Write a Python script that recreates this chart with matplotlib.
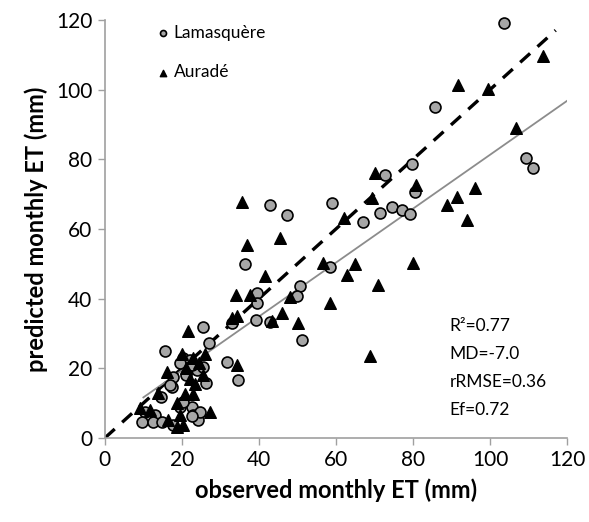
import numpy as np
import matplotlib
matplotlib.use('Agg')
import matplotlib.pyplot as plt

plt.rcParams['font.family'] = ['Lato', 'DejaVu Sans']

# observed / predicted monthly ET (mm)
lam_obs = [103.5, 85.7, 109.4, 111.2, 79.7, 80.5, 72.7, 59.0, 47.3, 42.9, 71.4, 74.5, 77.1, 79.2,
           67.0, 58.4, 36.3, 50.6, 49.9, 39.5, 39.5, 39.3, 42.9, 25.5, 27.0, 51.2, 15.6, 31.7,
           34.5, 26.2, 17.7, 17.4, 14.5, 10.4, 9.6, 13.0, 12.5, 14.8, 17.7, 19.5, 22.6, 22.9,
           24.2, 24.7, 22.6, 20.3, 16.9, 20.3, 22.0, 24.0, 21.0, 25.5, 33.0, 22.6, 19.5]
lam_pred = [119.0, 95.0, 80.4, 77.5, 78.7, 70.6, 75.5, 67.5, 64.0, 66.9, 64.6, 66.3, 65.5, 64.3,
            62.0, 49.1, 50.0, 43.6, 40.8, 41.6, 38.8, 33.9, 33.3, 31.9, 27.3, 28.2, 25.0, 21.8,
            16.7, 15.8, 17.5, 14.6, 11.8, 7.5, 4.6, 6.6, 4.6, 4.6, 3.7, 8.9, 8.9, 6.6,
            5.2, 7.5, 6.3, 10.3, 15.2, 23.0, 22.4, 19.5, 18.0, 20.5, 33.0, 20.8, 21.5]

aur_obs = [113.8, 99.5, 91.7, 106.8, 96.1, 91.4, 88.8, 93.9, 80.8, 70.1, 69.4, 62.0, 56.6, 64.9,
           80.0, 45.5, 62.9, 70.9, 58.4, 68.8, 35.6, 36.9, 41.6, 34.0, 37.8, 48.0, 46.0, 34.3,
           33.0, 50.1, 43.4, 21.6, 34.3, 27.3, 16.1, 13.8, 9.1, 11.7, 16.4, 19.5, 18.7, 20.8,
           22.9, 18.7, 20.3, 21.0, 23.0, 24.5, 25.5, 22.0, 20.0, 26.0, 23.5]
aur_pred = [109.7, 100.2, 101.3, 89.0, 71.8, 69.2, 66.9, 62.5, 72.6, 76.1, 68.9, 63.2, 50.2, 50.0,
            50.2, 57.5, 46.8, 43.9, 38.8, 23.5, 67.8, 55.3, 46.5, 41.0, 41.0, 40.5, 35.9, 35.0,
            34.3, 33.0, 33.5, 30.7, 21.0, 7.5, 19.0, 12.9, 8.6, 8.0, 5.2, 6.6, 10.0, 12.5,
            12.5, 3.2, 3.7, 20.0, 23.0, 21.5, 18.0, 17.0, 24.0, 24.0, 15.5]

stats = ['R²=0.77', 'MD=-7.0', 'rRMSE=0.36', 'Ef=0.72']

fit_slope, fit_icpt = 0.774, 3.9

fig = plt.figure(figsize=(5.89, 5.22), dpi=100)
ax = fig.add_axes([0.178, 0.161, 0.785, 0.801])

# 1:1 line and regression line
ax.plot([0, 117], [0, 117], color='black', lw=2.4, ls=(0, (4, 3)), zorder=2)
xf = np.array([10, 120])
ax.plot(xf, fit_slope * xf + fit_icpt, color='#8c8c8c', lw=1.3, zorder=2)

ax.scatter(lam_obs, lam_pred, s=62, marker='o', facecolor='#a6a6a6', edgecolor='black',
           linewidth=1.2, label='Lamasquère', zorder=3, clip_on=False)
ax.scatter(aur_obs, aur_pred, s=70, marker='^', facecolor='black', edgecolor='black',
           linewidth=1.0, label='Auradé', zorder=3, clip_on=False)

ax.set_xlim(0, 120)
ax.set_ylim(0, 120)
ax.set_xticks(range(0, 121, 20))
ax.set_yticks(range(0, 121, 20))
ax.tick_params(labelsize=15, colors='#a0a0a0', labelcolor='black', length=5, width=1, pad=4)
for side in ['top', 'right']:
    ax.spines[side].set_visible(False)
for side in ['left', 'bottom']:
    ax.spines[side].set_color('#a0a0a0')
    ax.spines[side].set_linewidth(1.2)

ax.set_xlabel('observed monthly ET (mm)', fontsize=17, fontweight='bold', labelpad=6)
ax.set_ylabel('predicted monthly ET (mm)', fontsize=17, fontweight='bold', labelpad=6)

leg = ax.legend(loc='upper left', bbox_to_anchor=(0.07, 1.025), frameon=False, fontsize=12.5,
                markerscale=0.55, handletextpad=0.0, labelspacing=1.35, handlelength=1.2)

for i, s in enumerate(stats):
    ax.text(0.745, 0.268 - i * 0.067, s, transform=ax.transAxes, fontsize=12.5, va='center')

fig.savefig('out.png', dpi=100)
